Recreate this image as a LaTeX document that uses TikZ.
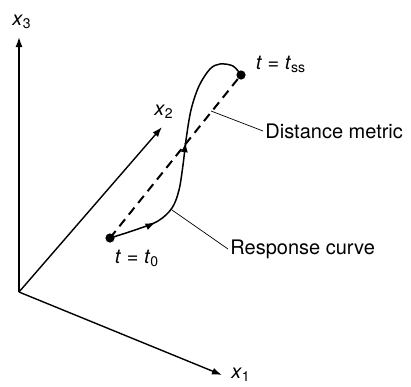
\documentclass[tikz,border=0pt]{standalone}
\usepackage{fontspec}
\setmainfont{TeX Gyre Heros}
\usetikzlibrary{arrows.meta, decorations.markings}
\newcommand{\ax}[1]{\textit{x}\textsubscript{#1}}

\begin{document}
\begin{tikzpicture}[x=0.5pt, y=-0.5pt,
        axis/.style={-{Latex[length=5pt, width=3.5pt]}, line width=0.7pt},
        dot/.style={circle, fill, inner sep=0pt, minimum size=4.6pt},
        lbl/.style={font=\normalsize, inner sep=1pt},
        lead/.style={line width=0.35pt},
        metric/.style={dashed, dash pattern=on 4.5pt off 3pt, line width=1pt},
        resp/.style={line width=0.75pt, postaction={decorate, decoration={markings,
          mark=at position 0.19 with {\arrow{Latex[length=5pt, width=3.5pt]}},
          mark=at position 0.545 with {\arrow{Latex[length=5pt, width=3.5pt]}}}}}
      ]
        \useasboundingbox (0,0) rectangle (411,386);
        % axes
        \coordinate (O) at (19,292);
        \coordinate (t3) at (19,37);
        \coordinate (t2) at (162,127);
        \coordinate (t1) at (222,375);
        \foreach \i in {1,2,3} { \draw[axis] (O) -- (t\i); }
        \node[lbl] (x3) at (22,22) {\ax{3}};
        \node[lbl] (x2) at (164,112) {\ax{2}};
        \node[lbl] (x1) at (241,375) {\ax{1}};
        % start and end states
        \node[dot] (start) at (110,238) {};
        \node[dot] (end) at (241,75) {};
        \node[lbl] (lstart) at (137,258) {\textit{t} = \textit{t}\textsubscript{0}};
        \node[lbl] (lend) at (281,64) {\textit{t} = \textit{t}\textsubscript{ss}};
        \draw[metric] (start.center) -- (end.center);
        \draw[resp] plot[smooth, tension=0.55] coordinates {(start.center) (135,230) (158,221)
          (172,208) (179,190) (183,165) (186,140) (191,110) (199,86) (210,69)
          (220,64) (233,66) (end.center)};
        % leaders
        \coordinate (pm) at (211,111);
        \coordinate (pr) at (172,210);
        \node[lbl, anchor=west] (lmetric) at (263,131) {Distance metric};
        \node[lbl, anchor=west] (lresp) at (228,249) {Response curve};
        \draw[lead] (pm) -- (lmetric.west);
        \draw[lead] (pr) -- (lresp.west);
      \end{tikzpicture}
\end{document}
